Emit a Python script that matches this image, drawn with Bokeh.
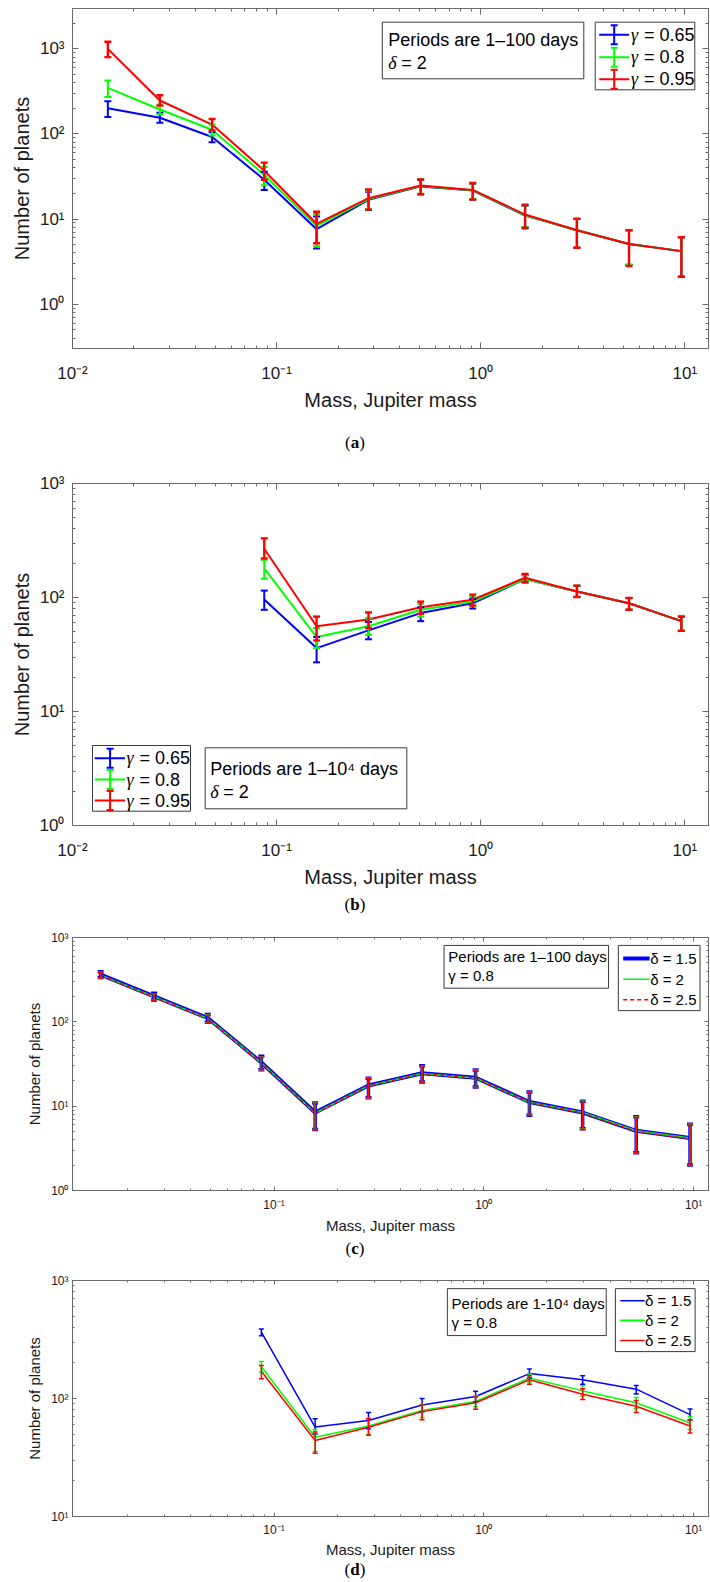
import numpy as np
from bokeh.plotting import figure
from bokeh.models import (Range1d, FixedTicker, LogAxis, CustomJSTickFormatter,
                          Whisker, TeeHead, ColumnDataSource, Div)
from bokeh.layouts import column
from bokeh.core.properties import value
from bokeh.embed import file_html
from bokeh.resources import INLINE

# ---------------- data ----------------
mass = [0.0149, 0.0268, 0.0483, 0.087, 0.157, 0.282, 0.508, 0.914, 1.65, 2.96, 5.33, 9.62]

# (a) periods 1-100 days, delta = 2
a_g065 = [201, 155, 92, 29, 7.6, 16.8, 24.2, 21.6, 11.0, 7.4, 5.1, 4.2]
a_g065_lo = [158, 135, 80, 22, 4.5, 12.8, 19.5, 17.0, 8.0, 4.6, 2.9, 2.1]
a_g065_hi = [243, 177, 105, 36, 10.7, 21.0, 29.0, 26.0, 14.3, 10.0, 7.4, 6.1]
a_g080 = [348, 194, 112, 33, 8.3, 17.2, 24.5, 21.8, 11.1, 7.4, 5.1, 4.2]
a_g080_lo = [271, 170, 96, 25, 4.8, 13.0, 19.8, 17.2, 8.0, 4.6, 2.9, 2.1]
a_g080_hi = [425, 220, 128, 41, 11.5, 21.5, 29.5, 26.2, 14.4, 10.0, 7.4, 6.1]
a_g095 = [1000, 247, 129, 37, 8.8, 17.6, 24.8, 22.0, 11.3, 7.4, 5.1, 4.2]
a_g095_lo = [800, 215, 110, 29, 5.2, 12.9, 19.5, 16.9, 7.8, 4.6, 2.8, 2.1]
a_g095_hi = [1210, 285, 150, 46, 12.2, 22.3, 29.2, 26.5, 14.7, 10.1, 7.4, 6.1]

# (b) periods 1-10^4 days, delta = 2 (masses from 4th bin on)
b_mass = mass[3:]
b_g065 = [96, 36, 51.5, 73, 89, 145, 113, 89, 62]
b_g065_lo = [78, 27, 43, 62, 80, 136, 101, 78, 51]
b_g065_hi = [115, 45, 61, 82, 97, 157, 127, 99, 68]
b_g080 = [180, 45, 56, 78, 92, 145, 113, 89, 62]
b_g080_lo = [146, 36, 47, 68, 84, 136, 101, 78, 51]
b_g080_hi = [214, 54, 66, 88, 101, 157, 127, 99, 68]
b_g095 = [268, 56, 64, 82, 95.5, 149, 113, 89, 62]
b_g095_lo = [220, 42, 54, 72, 85, 136, 101, 78, 51]
b_g095_hi = [330, 68, 74, 92, 106, 161, 127, 99, 68]

# (c) periods 1-100 days, gamma = 0.8
c_d15 = [363, 200, 111, 33, 8.4, 17.6, 24.6, 21.7, 11.2, 8.4, 5.1, 4.2]
c_d15_lo = [335, 182, 99, 27, 5.3, 12.6, 19.3, 16.9, 7.8, 5.4, 2.8, 2.0]
c_d15_hi = [392, 218, 122, 39, 10.9, 21.5, 30.2, 26.9, 14.7, 11.4, 7.5, 6.1]
c_d20 = [358, 198, 110, 32.7, 8.3, 17.5, 24.4, 21.6, 11.1, 8.4, 5.1, 4.2]
c_d20_lo = [331, 180, 98, 27, 5.3, 12.6, 19.2, 16.8, 7.8, 5.4, 2.8, 2.0]
c_d20_hi = [387, 216, 121, 38.6, 10.9, 21.4, 30.0, 26.8, 14.6, 11.4, 7.5, 6.1]
c_d25 = [355, 197, 109, 32.4, 8.2, 17.4, 24.3, 21.5, 11.1, 8.3, 5.0, 4.1]
c_d25_lo = [328, 179, 97, 26.8, 5.2, 12.5, 19.1, 16.7, 7.8, 5.3, 2.8, 2.0]
c_d25_hi = [384, 215, 120, 38.3, 10.8, 21.3, 29.9, 26.7, 14.5, 11.3, 7.4, 6.0]

# (d) periods 1-10^4 days, gamma = 0.8
d_mass = mass[3:]
d_d15 = [366, 57.3, 65.2, 88, 104, 162.5, 144, 120, 73]
d_d15_lo = [341, 50, 55.5, 77.4, 94, 149, 132, 109, 65.6]
d_d15_hi = [388, 67.3, 76, 100, 115, 178, 156, 129, 81.5]
d_d20 = [186, 47, 58.5, 79, 94.4, 149, 116, 92, 62]
d_d20_lo = [167, 35.5, 49.5, 69, 85, 138, 105, 82.5, 54.5]
d_d20_hi = [206, 54.5, 68, 89, 105, 161, 128, 102, 70]
d_d25 = [170, 44, 57, 77.4, 92, 144, 108.6, 86, 58.5]
d_d25_lo = [147, 34.3, 48.9, 65.9, 81, 132, 98, 76, 51]
d_d25_hi = [190, 52, 67.3, 88, 103, 156, 121, 96, 66]

gamma_labels = ["= 0.65", "= 0.8", "= 0.95"]
delta_labels = ["\u03b4 = 1.5", "\u03b4 = 2", "\u03b4 = 2.5"]
BLUE, GREEN, RED = "#0000ff", "#00ff00", "#ff0000"

# ---------------- helpers ----------------
AX = "#6a6a6a"
TXT = "#1a1a1a"
FONT = "Liberation Sans"
W = 710

SUP_JS = """
const m = {"-":"\u207b","0":"\u2070","1":"\u00b9","2":"\u00b2","3":"\u00b3","4":"\u2074",
           "5":"\u2075","6":"\u2076","7":"\u2077","8":"\u2078","9":"\u2079"};
const e = Math.round(Math.log10(tick));
return "10" + String(e).split("").map(c => m[c]).join("");
"""


def log_ticks(lo_exp, hi_exp):
    major = [10.0 ** e for e in range(lo_exp, hi_exp + 1)]
    minor = [m * 10.0 ** e for e in range(lo_exp - 1, hi_exp + 1) for m in range(2, 10)]
    return FixedTicker(ticks=major, minor_ticks=minor)


def frame_map(xr, yr, fw, fh):
    lx0, lx1 = np.log10(xr)
    ly0, ly1 = np.log10(yr)
    fx = lambda px: float(10 ** (lx0 + px / fw * (lx1 - lx0)))
    fy = lambda py: float(10 ** (ly1 - py / fh * (ly1 - ly0)))
    return fx, fy


def make_panel(xr, yr, height, bl, bt, bb, br, xt, yt, tick_fs, lab_fs,
               xstand, ystand, xlstand, ylstand, tin, mtin):
    p = figure(x_axis_type="log", y_axis_type="log",
               x_range=Range1d(*xr), y_range=Range1d(*yr),
               width=W, height=height,
               min_border_left=bl, min_border_top=bt, min_border_bottom=bb, min_border_right=br,
               toolbar_location=None, output_backend="svg",
               background_fill_color="white", border_fill_color="white",
               outline_line_color=AX)
    p.xgrid.visible = False
    p.ygrid.visible = False
    for ax, t in ((p.xaxis[0], xt), (p.yaxis[0], yt)):
        ax.ticker = t
        ax.formatter = CustomJSTickFormatter(code=SUP_JS)
        ax.major_label_text_font = FONT
        ax.major_label_text_font_size = f"{tick_fs}px"
        ax.major_label_text_color = TXT
        ax.axis_label_text_font = FONT
        ax.axis_label_text_font_size = f"{lab_fs}px"
        ax.axis_label_text_font_style = "normal"
        ax.axis_label_text_color = TXT
        ax.axis_line_color = AX
        ax.major_tick_line_color = AX
        ax.minor_tick_line_color = AX
        ax.major_tick_in = tin
        ax.major_tick_out = 0
        ax.minor_tick_in = mtin
        ax.minor_tick_out = 0
    p.xaxis[0].major_label_standoff = xstand
    p.yaxis[0].major_label_standoff = ystand
    p.xaxis[0].axis_label_standoff = xlstand
    p.yaxis[0].axis_label_standoff = ylstand
    p.xaxis[0].axis_label = "Mass, Jupiter mass"
    p.yaxis[0].axis_label = "Number of planets"
    for loc, t in (("right", yt), ("above", xt)):
        ax = LogAxis(ticker=t, formatter=CustomJSTickFormatter(code="return '';"),
                     major_label_text_font_size="0px", major_label_standoff=0,
                     axis_line_color=AX, major_tick_line_color=AX, minor_tick_line_color=AX,
                     major_tick_in=tin, major_tick_out=0, minor_tick_in=mtin, minor_tick_out=0)
        p.add_layout(ax, loc)
    return p


def add_series(p, x, y, lo, hi, color, lw, elw, cap, dash="solid"):
    p.line(x, y, line_color=color, line_width=lw, line_dash=dash)
    src = ColumnDataSource(dict(x=x, lo=lo, hi=hi))
    w = Whisker(source=src, base="x", lower="lo", upper="hi", dimension="height",
                line_color=color, line_width=elw, level="annotation",
                upper_head=TeeHead(size=cap, line_color=color, line_width=elw),
                lower_head=TeeHead(size=cap, line_color=color, line_width=elw))
    p.add_layout(w)


def txt(p, x, y, s, size, italic=False, font=FONT):
    p.text(x=[x], y=[y], text=[s], text_font=value(font), text_font_size=value(f"{size}px"),
           text_font_style="italic" if italic else "normal",
           text_baseline="middle", text_align="left", text_color="black")


def box(p, fx, fy, l, r, t, b):
    p.quad(left=[fx(l)], right=[fx(r)], top=[fy(t)], bottom=[fy(b)],
           fill_color="white", line_color="#3a3a3a", line_width=1)


def errbar_legend(p, fx, fy, bx, rows, lx0, lx1, barx, hh, cw, tx, size):
    box(p, fx, fy, *bx)
    for yy, c, lab in zip(rows, [BLUE, GREEN, RED], gamma_labels):
        p.line([fx(lx0), fx(lx1)], [fy(yy), fy(yy)], line_color=c, line_width=2)
        p.segment(x0=[fx(barx), fx(barx - cw), fx(barx - cw)],
                  x1=[fx(barx), fx(barx + cw), fx(barx + cw)],
                  y0=[fy(yy - hh), fy(yy - hh), fy(yy + hh)],
                  y1=[fy(yy + hh), fy(yy - hh), fy(yy + hh)],
                  line_color=c, line_width=2)
        txt(p, fx(tx), fy(yy), "\u03b3", size, italic=True, font="Liberation Serif")
        txt(p, fx(tx + 13), fy(yy), lab, size)


def line_legend(p, fx, fy, bx, rows, lx0, lx1, tx, size, widths, dashes):
    box(p, fx, fy, *bx)
    for yy, c, lab, lw, ds in zip(rows, [BLUE, GREEN, RED], delta_labels, widths, dashes):
        p.line([fx(lx0), fx(lx1)], [fy(yy), fy(yy)], line_color=c, line_width=lw, line_dash=ds)
        txt(p, fx(tx), fy(yy), lab, size)


def caption(letter, height, pad):
    html = (f"<div style='width:{W - pad}px;padding-left:{pad}px;text-align:center;"
            f"font-family:\"Liberation Serif\",serif;font-size:17px;line-height:{height}px;"
            f"color:#000;margin:0'>(<b>{letter}</b>)</div>")
    return Div(text=html, width=W, height=height, margin=0)


# ---------------- panel (a) ----------------
FW1, FH1 = 636, 340
xrA = (0.01, 10 ** (1 + (FW1 - 612.3) / 204.1))
yrA = (10 ** -0.521, 10 ** 3.474)
pA = make_panel(xrA, yrA, 425, 72, 8, 77, 2, log_ticks(-2, 1), log_ticks(0, 3),
                17, 20, 15, 8, 3, 4, 6, 3)
for y, lo, hi, c, ew in ((a_g065, a_g065_lo, a_g065_hi, BLUE, 2), (a_g080, a_g080_lo, a_g080_hi, GREEN, 2),
                         (a_g095, a_g095_lo, a_g095_hi, RED, 2.4)):
    add_series(pA, mass, y, lo, hi, c, 2, ew, 7)
fx, fy = frame_map(xrA, yrA, FW1, FH1)
box(pA, fx, fy, 309.8, 511.3, 13.7, 70.3)
txt(pA, fx(315.7), fy(31), "Periods are 1\u2013100 days", 18)
txt(pA, fx(315.7), fy(54.3), "\u03b4", 18, italic=True, font="Liberation Serif")
txt(pA, fx(328.7), fy(54.3), "= 2", 18)
errbar_legend(pA, fx, fy, (522.7, 622.3, 13.7, 81.3), [26.3, 48.7, 70.7],
              526.7, 556.6, 541.7, 9.5, 3.5, 558.4, 18)

# ---------------- panel (b) ----------------
FH2 = 342
yrB = (1, 1000)
pB = make_panel(xrA, yrB, 430, 72, 23, 65, 2, log_ticks(-2, 1), log_ticks(0, 3),
                17, 20, 15, 8, 3, 4, 6, 3)
for y, lo, hi, c, ew in ((b_g065, b_g065_lo, b_g065_hi, BLUE, 2), (b_g080, b_g080_lo, b_g080_hi, GREEN, 2),
                         (b_g095, b_g095_lo, b_g095_hi, RED, 2.4)):
    add_series(pB, b_mass, y, lo, hi, c, 2, ew, 7)
fx, fy = frame_map(xrA, yrB, FW1, FH2)
errbar_legend(pB, fx, fy, (20, 118, 262, 327.7), [274.7, 296, 317],
              22.2, 52.5, 37.6, 9.5, 3.5, 54, 18)
box(pB, fx, fy, 132.7, 334.3, 264.3, 325.3)
txt(pB, fx(137.7), fy(285.3), "Periods are 1\u201310\u2074 days", 18)
txt(pB, fx(137.7), fy(308.7), "\u03b4", 18, italic=True, font="Liberation Serif")
txt(pB, fx(150.7), fy(308.7), "= 2", 18)

# ---------------- panel (c) ----------------
FW3, FH3 = 651, 256
xrC = (10 ** (-1 - 206.3 / 214.7), 10 ** (1 + (FW3 - 635.7) / 214.7))
yrC = (1, 1000)
pC = make_panel(xrC, yrC, 316, 57, 17, 43, 2, log_ticks(-2, 1), log_ticks(0, 3),
                12, 15, 7, 4, 2, 5, 4, 2)
add_series(pC, mass, c_d15, c_d15_lo, c_d15_hi, BLUE, 4, 3.5, 6)
add_series(pC, mass, c_d20, c_d20_lo, c_d20_hi, GREEN, 1.5, 1.5, 5)
add_series(pC, mass, c_d25, c_d25_lo, c_d25_hi, RED, 1.5, 1.5, 5, dash="4 3")
fx, fy = frame_map(xrC, yrC, FW3, FH3)
box(pC, fx, fy, 380.3, 548.7, 8, 51.3)
txt(pC, fx(384.7), fy(19.7), "Periods are 1\u2013100 days", 15)
txt(pC, fx(384.7), fy(38), "\u03b3 = 0.8", 15)
line_legend(pC, fx, fy, (558.7, 642.3, 8, 74), [21.3, 42.3, 63], 563.7, 590.7, 591.3, 15,
            [4, 1.5, 1.5], ["solid", "solid", "4 3"])

# ---------------- panel (d) ----------------
FH4 = 240
yrD = (10, 1000)
pD = make_panel(xrC, yrD, 298, 57, 18, 40, 2, log_ticks(-2, 1), log_ticks(1, 3),
                12, 15, 6, 4, 1, 5, 4, 2)
add_series(pD, d_mass, d_d15, d_d15_lo, d_d15_hi, BLUE, 1.5, 1.5, 5)
add_series(pD, d_mass, d_d20, d_d20_lo, d_d20_hi, GREEN, 1.5, 1.5, 5)
add_series(pD, d_mass, d_d25, d_d25_lo, d_d25_hi, RED, 1.5, 1.5, 5)
fx, fy = frame_map(xrC, yrD, FW3, FH4)
box(pD, fx, fy, 383.7, 546.3, 8.3, 56)
txt(pD, fx(388), fy(23.3), "Periods are 1-10\u2074 days", 15)
txt(pD, fx(388), fy(42.3), "\u03b3 = 0.8", 15)
line_legend(pD, fx, fy, (555.7, 637.3, 8.3, 72.3), [20.7, 40.7, 61], 560.7, 585.7, 586, 15,
            [1.5, 2, 1.5], ["solid", "solid", "solid"])

layout = column(pA, caption("a", 35, 42), pB, caption("b", 30, 42),
                pC, caption("c", 26, 19), pD, caption("d", 20, 19), spacing=0)

open("out.html", "w").write(file_html(layout, INLINE))
